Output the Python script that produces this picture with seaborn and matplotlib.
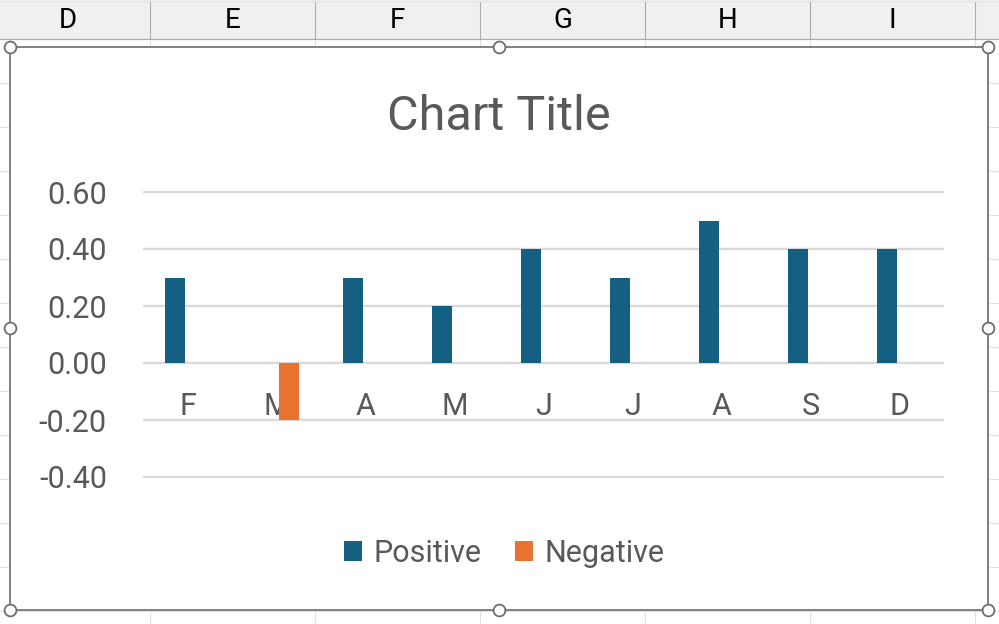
import matplotlib
matplotlib.use("Agg")
import matplotlib.pyplot as plt
import matplotlib.lines as mlines
import matplotlib.patches as mpatches
import pandas as pd
import seaborn as sns

mois = ["F", "M", "A", "M", "J", "J", "A", "S", "D"]
positif = [0.3, 0.0, 0.3, 0.2, 0.4, 0.3, 0.5, 0.4, 0.4]
negatif = [0.0, -0.2, 0.0, 0.0, 0.0, 0.0, 0.0, 0.0, 0.0]
series = ["Positive", "Negative"]
couleurs = ["#156082", "#E97132"]
graduations = [-0.4, -0.2, 0.0, 0.2, 0.4, 0.6]
colonnes = ["D", "E", "F", "G", "H", "I"]

# Table longue pour seaborn (index de position car les mois se repetent)
df = pd.DataFrame({
    "pos": list(range(len(mois))) * 2,
    "Serie": [series[0]] * len(mois) + [series[1]] * len(mois),
    "Valeur": positif + negatif,
})

W, H = 999, 624
sns.set_theme(style="white")
plt.rcParams["font.family"] = ["Roboto", "DejaVu Sans"]
GRIS_TEXTE = "#595959"

fig = plt.figure(figsize=(W / 100, H / 100), dpi=100)


def fx(x):
    return x / W


def fy(y):
    return 1 - y / H


# Fond de feuille : lignes et colonnes des cellules
for y in range(83, H, 44):
    fig.add_artist(mlines.Line2D([0, 1], [fy(y)] * 2, color="#E1E1E1", lw=0.8, zorder=1))
for x in range(150, W, 165):
    fig.add_artist(mlines.Line2D([fx(x)] * 2, [0, fy(39)], color="#E1E1E1", lw=0.8, zorder=1))

# En-tete des colonnes
fig.add_artist(mpatches.Rectangle((0, fy(39)), 1, 39 / H, facecolor="#F0F0F0", lw=0, zorder=2))
fig.add_artist(mlines.Line2D([0, 1], [fy(39)] * 2, color="#ABABAB", lw=0.9, zorder=3))
fig.add_artist(mlines.Line2D([0, 1], [fy(1)] * 2, color="#E3E3E3", lw=0.9, zorder=3))
for x in range(150, W, 165):
    fig.add_artist(mlines.Line2D([fx(x)] * 2, [fy(39), fy(2)], color="#ABABAB", lw=0.8, zorder=3))
for i, c in enumerate(colonnes):
    fig.text(fx(67.5 + 165 * i), fy(21), c, ha="center", va="center", fontsize=20,
             color="black", zorder=4)

# Zone du graphique avec bordure et poignees
fig.add_artist(mpatches.Rectangle((fx(10), fy(610)), (988 - 10) / W, (610 - 47) / H,
                                  facecolor="white", edgecolor="#767676", lw=1.3, zorder=4))
poignees_x = [10, 499, 988, 10, 988, 10, 499, 988]
poignees_y = [47, 47, 47, 328, 328, 610, 610, 610]
for px, py in zip(poignees_x, poignees_y):
    fig.add_artist(mlines.Line2D([fx(px)], [fy(py)], marker="o", markersize=8.5,
                                 mfc="white", mec="#6E6E6E", mew=1.3, zorder=10))

# Titre
fig.text(fx(499), fy(130), "Chart Title", ha="center", va="baseline", fontsize=35,
         color=GRIS_TEXTE, zorder=6)

# Zone de trace : -0.4 -> 477 px, 0.6 -> 192 px
marge = 0.005
ppu = (477 - 192) / 1.0
haut = 192 - marge * ppu
bas = 477 + marge * ppu
ax = fig.add_axes([fx(143), fy(bas), (944 - 143) / W, (bas - haut) / H])
ax.set_zorder(5)
ax.patch.set_alpha(0)

sns.barplot(data=df, x="pos", y="Valeur", hue="Serie", hue_order=series,
            palette=couleurs, width=0.56, gap=0.2, linewidth=0, errorbar=None,
            saturation=1, ax=ax)

ax.set_ylim(-0.4 - marge, 0.6 + marge)
ax.set_xlim(-0.5, len(mois) - 0.5)
ax.set_yticks(graduations)
ax.set_yticklabels([f"{v:.2f}" for v in graduations])
ax.set_xticks(range(len(mois)))
ax.set_xticklabels(mois)
ax.set_xlabel("")
ax.set_ylabel("")

# Quadrillage horizontal gris clair, derriere les barres
ax.set_axisbelow(True)
ax.yaxis.grid(True, color="#D9D9D9", lw=1.7)
ax.xaxis.grid(False)
for s in ax.spines.values():
    s.set_visible(False)
# Etiquettes de categories collees a l'axe zero
ax.spines["bottom"].set_position(("data", 0))
ax.tick_params(axis="y", length=0, pad=26, labelsize=22, labelcolor=GRIS_TEXTE)
ax.tick_params(axis="x", length=0, pad=21, labelsize=22, labelcolor=GRIS_TEXTE)

# Legende en bas
poignees, etiquettes = ax.get_legend_handles_labels()
ax.get_legend().remove()
ax.legend(poignees, etiquettes, loc="center", bbox_to_anchor=(fx(504), fy(553)),
          bbox_transform=fig.transFigure, ncol=2, frameon=False, fontsize=22,
          handlelength=0.62, handleheight=0.62, handletextpad=0.36, columnspacing=1.08,
          labelcolor=GRIS_TEXTE)

fig.savefig("out.png", dpi=100)
